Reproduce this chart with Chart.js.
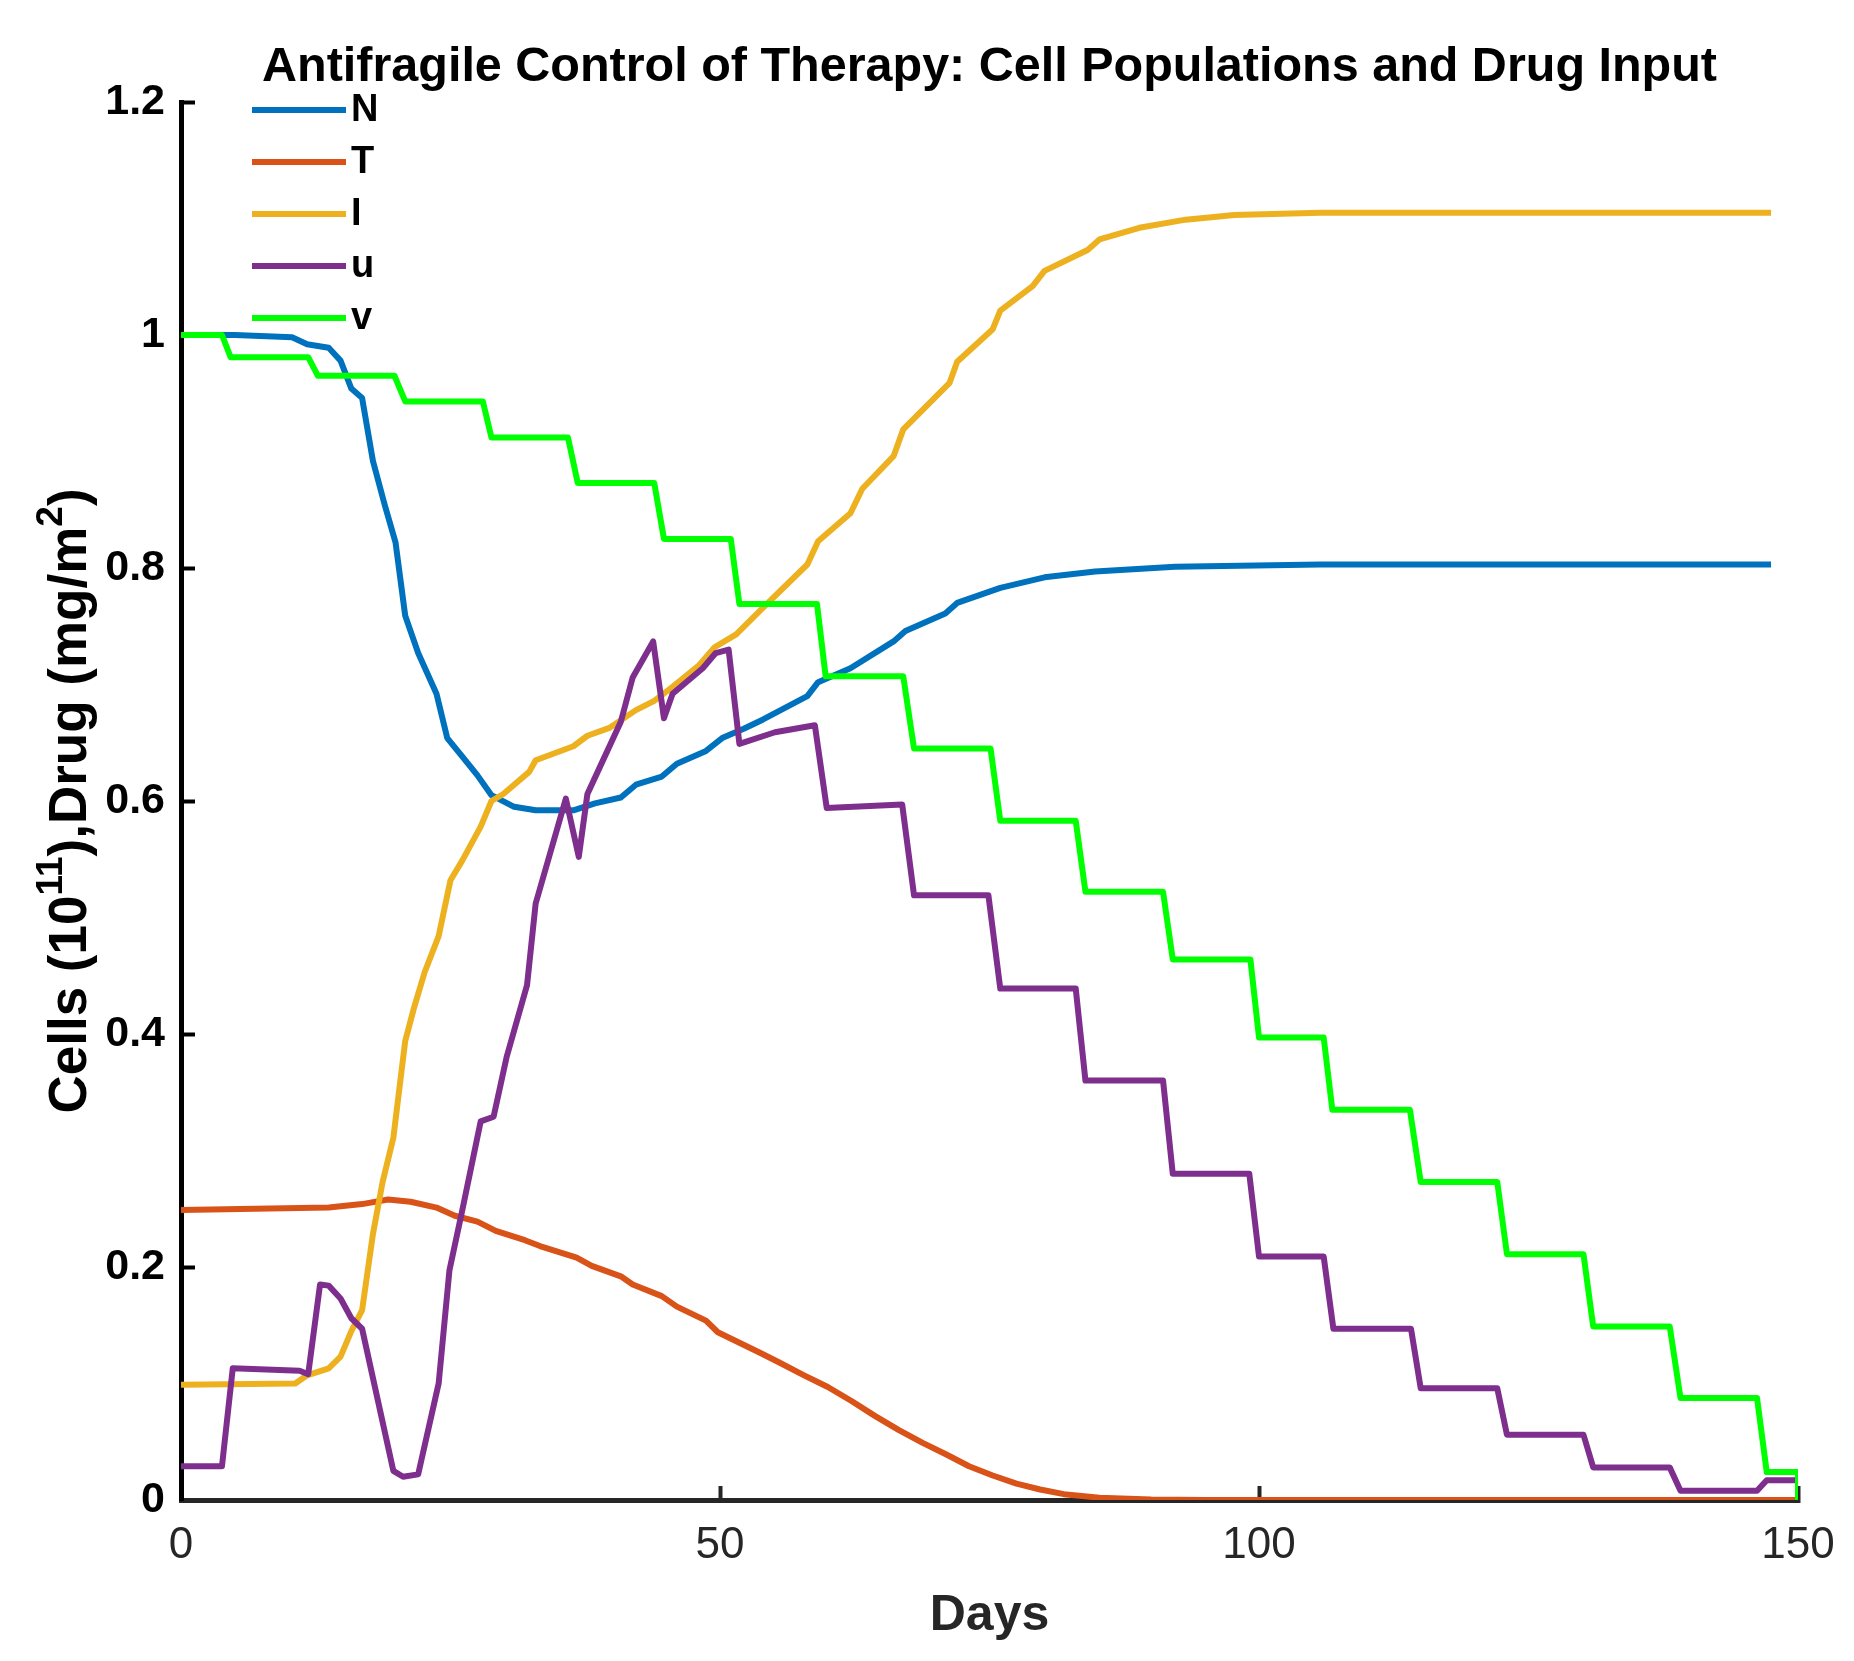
<!DOCTYPE html>
<html>
<head>
<meta charset="utf-8">
<title>Antifragile Control of Therapy</title>
<script src="https://cdn.jsdelivr.net/npm/chart.js@4.4.1/dist/chart.umd.min.js"></script>
<style>
  html, body { margin: 0; padding: 0; background: #fff; }
  #wrap { width: 1854px; height: 1661px; position: relative; }
</style>
</head>
<body>
<div id="wrap"><canvas id="chart"></canvas></div>
<script>
const FONT = "'Liberation Sans', Arial, Helvetica, sans-serif";

// N - normal cells
const nDays = [0, 5, 10.3, 11.7, 13.7, 14.8, 15.8, 16.8, 17.8, 18.9, 19.9, 20.8, 22, 23.7, 24.7, 26.1, 27.5, 28.8, 30.9, 32.9, 36.4, 38.4, 40.8, 42.2, 44.6, 46, 48.7, 50.2, 52.2, 54, 58.1, 59.1, 62.1, 66.1, 67.2, 70.9, 72, 76, 80.1, 84.8, 92.2, 105.7, 147.5];
const nVals = [1.0, 1.0, 0.998, 0.992, 0.989, 0.978, 0.954, 0.946, 0.892, 0.854, 0.822, 0.759, 0.727, 0.692, 0.654, 0.638, 0.622, 0.605, 0.595, 0.592, 0.592, 0.598, 0.603, 0.614, 0.621, 0.632, 0.643, 0.654, 0.662, 0.670, 0.690, 0.702, 0.714, 0.737, 0.746, 0.761, 0.770, 0.783, 0.792, 0.797, 0.801, 0.803, 0.803];

// T - tumour cells
const tDays = [0, 13.7, 16.8, 19.2, 21.3, 23.7, 25.4, 27.5, 29.2, 31.9, 33.3, 36.7, 38.1, 40.8, 41.9, 44.6, 46, 48.7, 49.8, 53.8, 55.5, 57.8, 60, 62.2, 64.4, 66.6, 68.8, 71, 73.1, 75.3, 77.5, 79.7, 81.9, 85.2, 90, 95, 150];
const tVals = [0.249, 0.251, 0.254, 0.258, 0.256, 0.251, 0.244, 0.239, 0.231, 0.223, 0.218, 0.208, 0.201, 0.192, 0.185, 0.175, 0.166, 0.154, 0.144, 0.126, 0.118, 0.107, 0.097, 0.085, 0.072, 0.060, 0.049, 0.039, 0.029, 0.021, 0.014, 0.009, 0.005, 0.002, 0.0005, 0, 0];

// I - immune cells
const iDays = [0, 10.6, 11.7, 13.7, 14.8, 15.8, 16.8, 17.8, 18.7, 19.7, 20.8, 21.6, 22.6, 23.9, 25, 26.1, 27.8, 28.8, 29.9, 32.3, 32.9, 36.4, 37.7, 39.8, 42.2, 43.9, 45.6, 48, 49.5, 51.5, 54, 58.1, 59.1, 62.1, 63.2, 66.1, 67, 71.3, 72, 75.3, 76, 79, 80.1, 84.1, 85.2, 88.9, 93.2, 97.7, 105.7, 147.5];
const iVals = [0.099, 0.1, 0.107, 0.113, 0.123, 0.145, 0.163, 0.228, 0.273, 0.311, 0.394, 0.422, 0.453, 0.484, 0.532, 0.549, 0.578, 0.6, 0.606, 0.625, 0.635, 0.647, 0.656, 0.663, 0.678, 0.686, 0.698, 0.716, 0.732, 0.743, 0.766, 0.803, 0.823, 0.847, 0.868, 0.896, 0.919, 0.959, 0.977, 1.005, 1.021, 1.042, 1.055, 1.073, 1.082, 1.092, 1.099, 1.103, 1.105, 1.105];

// u - drug input
const uDays = [0, 3.8, 4.8, 11, 11.8, 12.9, 13.7, 14.8, 15.8, 16.8, 19.7, 20.6, 22, 23.9, 24.9, 26.1, 27.8, 29, 30.2, 32.1, 32.9, 35.7, 36.9, 37.7, 38.8, 40.8, 41.9, 43.8, 44.8, 45.6, 48.4, 49.6, 50.8, 51.8, 55.1, 58.8, 59.9, 66.9, 68, 74.9, 76, 83, 83.9, 91.1, 92, 99.1, 100, 106, 106.9, 114.1, 115, 122.1, 123, 130.1, 131, 138.1, 139.1, 146.2, 147.1, 150];
const uVals = [0.029, 0.029, 0.113, 0.111, 0.108, 0.185, 0.184, 0.173, 0.156, 0.147, 0.025, 0.020, 0.022, 0.1, 0.197, 0.249, 0.325, 0.329, 0.380, 0.442, 0.512, 0.602, 0.552, 0.606, 0.628, 0.668, 0.706, 0.737, 0.671, 0.692, 0.714, 0.727, 0.730, 0.649, 0.659, 0.665, 0.594, 0.597, 0.519, 0.519, 0.439, 0.439, 0.360, 0.360, 0.280, 0.280, 0.209, 0.209, 0.147, 0.147, 0.096, 0.096, 0.056, 0.056, 0.028, 0.028, 0.008, 0.008, 0.017, 0.017];

// v - drug concentration
const vDays = [0, 3.8, 4.6, 11.8, 12.7, 19.8, 20.8, 28, 28.8, 35.9, 36.8, 43.9, 44.8, 51, 51.8, 59, 59.8, 67, 68, 75.1, 76, 83, 83.9, 91.1, 92, 99.2, 100, 106, 106.8, 114, 115, 122.1, 123, 130.1, 131, 138.1, 139.1, 146.2, 147.1, 150, 150];
const vVals = [1.0, 1.0, 0.981, 0.981, 0.965, 0.965, 0.943, 0.943, 0.912, 0.912, 0.873, 0.873, 0.825, 0.825, 0.769, 0.769, 0.707, 0.707, 0.645, 0.645, 0.583, 0.583, 0.522, 0.522, 0.464, 0.464, 0.397, 0.397, 0.335, 0.335, 0.273, 0.273, 0.211, 0.211, 0.149, 0.149, 0.0875, 0.0875, 0.024, 0.024, 0];

const seriesNames = ['N', 'T', 'I', 'u', 'v'];
const seriesColors = ['#0072BD', '#D95319', '#EDB120', '#7E2F8E', '#00FF00'];
const xTicks = [0, 50, 100, 150];

const toPoints = (xs, ys) => xs.map((x, i) => ({ x: x, y: ys[i] }));
const allData = [
  toPoints(nDays, nVals),
  toPoints(tDays, tVals),
  toPoints(iDays, iVals),
  toPoints(uDays, uVals),
  toPoints(vDays, vVals)
];

// legend drawn inside the plot, top left, like matlab's
const insideLegend = {
  id: 'insideLegend',
  afterDatasetsDraw(chart) {
    const { ctx, chartArea } = chart;
    ctx.save();
    ctx.font = `bold 38px ${FONT}`;
    ctx.textBaseline = 'middle';
    ctx.textAlign = 'left';
    ctx.fillStyle = '#000';
    ctx.lineWidth = 6;
    chart.data.datasets.forEach((ds, i) => {
      const y = chartArea.top + 8 + i * 52;
      ctx.strokeStyle = ds.borderColor;
      ctx.beginPath();
      ctx.moveTo(chartArea.left + 71, y);
      ctx.lineTo(chartArea.left + 165, y);
      ctx.stroke();
      ctx.fillText(ds.label, chartArea.left + 170, y + 1);
    });
    ctx.restore();
  }
};

// y axis title with superscripts
const yTitle = {
  id: 'yTitle',
  afterDraw(chart) {
    const { ctx, chartArea } = chart;
    const parts = [
      ['Cells (10', false], ['11', true], ['),Drug (mg/m', false], ['2', true], [')', false]
    ];
    const big = `bold 53px ${FONT}`;
    const small = `bold 37px ${FONT}`;
    ctx.save();
    let total = 0;
    parts.forEach(p => { ctx.font = p[1] ? small : big; total += ctx.measureText(p[0]).width; });
    ctx.translate(86, (chartArea.top + chartArea.bottom) / 2);
    ctx.rotate(-Math.PI / 2);
    ctx.fillStyle = '#000';
    ctx.textBaseline = 'alphabetic';
    ctx.textAlign = 'left';
    let x = -total / 2;
    parts.forEach(p => {
      ctx.font = p[1] ? small : big;
      ctx.fillText(p[0], x, p[1] ? -24 : 0);
      x += ctx.measureText(p[0]).width;
    });
    ctx.restore();
  }
};

new Chart(document.getElementById('chart'), {
  type: 'line',
  data: {
    datasets: seriesNames.map((name, i) => ({
      label: name,
      data: allData[i],
      borderColor: seriesColors[i],
      backgroundColor: seriesColors[i],
      borderWidth: 6,
      pointRadius: 0,
      tension: 0,
      fill: false,
      order: seriesNames.length - i
    }))
  },
  options: {
    responsive: true,
    maintainAspectRatio: false,
    animation: false,
    devicePixelRatio: 1,
    layout: { padding: { left: 0, right: 56, top: 0, bottom: 0 } },
    elements: { line: { borderJoinStyle: 'round', borderCapStyle: 'butt' } },
    plugins: {
      legend: { display: false },
      tooltip: { enabled: false },
      title: {
        display: true,
        fullSize: false,
        text: 'Antifragile Control of Therapy: Cell Populations and Drug Input',
        color: '#000',
        font: { family: FONT, size: 48.5, weight: 'bold', lineHeight: 1.2 },
        padding: { top: 39, bottom: 4.8 }
      }
    },
    scales: {
      x: {
        type: 'linear',
        min: 0,
        max: 150,
        afterFit: s => { s.height = 161; s.paddingLeft = 0; s.paddingRight = 0; },
        afterBuildTicks: s => { s.ticks = xTicks.map(v => ({ value: v })); },
        ticks: { color: '#262626', font: { family: FONT, size: 44 }, padding: 33, maxRotation: 0 },
        grid: { drawOnChartArea: false, drawTicks: true, tickLength: -14, tickWidth: 4, tickColor: '#262626' },
        border: { color: '#262626', width: 5 },
        title: {
          display: true,
          text: 'Days',
          color: '#262626',
          font: { family: FONT, size: 50, weight: 'bold', lineHeight: 1.2 },
          padding: { top: 0, bottom: 15 }
        }
      },
      y: {
        min: 0,
        max: 1.2,
        afterFit: s => { s.width = 181; },
        ticks: {
          stepSize: 0.2,
          color: '#000',
          font: { family: FONT, size: 43, weight: 'bold' },
          padding: 30,
          callback: v => String(Math.round(v * 10) / 10)
        },
        grid: { drawOnChartArea: false, drawTicks: true, tickLength: -14, tickWidth: 4, tickColor: '#000' },
        border: { color: '#000', width: 5 }
      }
    }
  },
  plugins: [insideLegend, yTitle]
});
</script>
</body>
</html>
